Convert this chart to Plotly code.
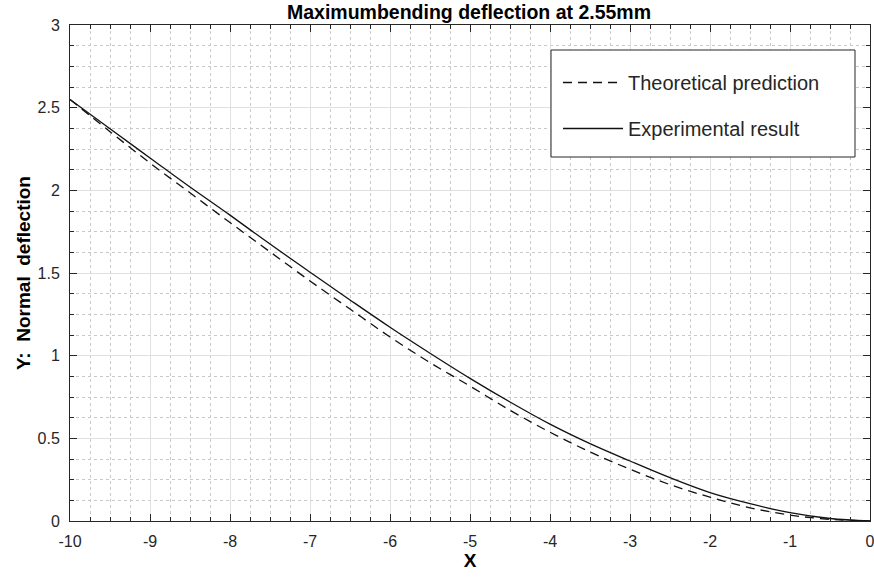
import plotly.graph_objects as go

# ---- data ----
x_vals = [-10, -9.5, -9, -8.5, -8, -7.5, -7, -6.5, -6, -5.5, -5,
          -4.5, -4, -3.5, -3, -2.5, -2, -1.5, -1, -0.5, 0]
theoretical = [2.55, 2.355, 2.165, 1.985, 1.805, 1.628, 1.452, 1.282, 1.113, 0.958, 0.816,
               0.670, 0.537, 0.418, 0.313, 0.220, 0.144, 0.080, 0.036, 0.010, 0.0]
experimental = [2.55, 2.372, 2.196, 2.020, 1.850, 1.675, 1.505, 1.337, 1.172, 1.015, 0.863,
                0.720, 0.586, 0.468, 0.363, 0.262, 0.172, 0.105, 0.050, 0.015, 0.0]
x_ticks = [-10, -9, -8, -7, -6, -5, -4, -3, -2, -1, 0]
y_ticks = [0, 0.5, 1, 1.5, 2, 2.5, 3]

FONT = "Liberation Sans, Arial, sans-serif"
AX = "#262626"

fig = go.Figure()
fig.add_trace(go.Scatter(x=x_vals, y=theoretical, mode="lines", name="Theoretical prediction",
                         line=dict(color="#111111", width=1.3, dash="9px,6px", shape="spline"),
                         legendgroup="a"))
fig.add_trace(go.Scatter(x=x_vals, y=experimental, mode="lines", name="Experimental result",
                         line=dict(color="#111111", width=1.3, shape="spline"),
                         legendgroup="b"))

L, R, T, B = 70, 4, 25, 62
W, H = 874, 583
pw, ph = W - L - R, H - T - B

def px_x(p):
    return (p - L) / pw

def px_y(p):
    return (H - B - p) / ph

axis_common = dict(
    showline=True, linecolor=AX, linewidth=1, mirror="allticks",
    ticks="inside", ticklen=7, tickcolor=AX, tickwidth=1,
    showgrid=True, gridcolor="#e0e0e0", gridwidth=1,
    zeroline=False, automargin=False,
    tickfont=dict(family=FONT, size=16, color=AX),
    ticklabeloverflow="allow",
)

fig.update_xaxes(range=[-10, 0], tickvals=x_ticks, ticktext=[str(v) for v in x_ticks],
                 minor=dict(dtick=0.25, ticks="inside", ticklen=4, tickcolor=AX,
                            showgrid=True, gridcolor="#c8c8c8", griddash="dot", gridwidth=1),
                 title=dict(text="<b>X</b>", font=dict(family=FONT, size=19, color="#000"), standoff=4),
                 ticklabelstandoff=6,
                 **axis_common)
fig.update_yaxes(range=[0, 3], tickvals=y_ticks, ticktext=["0", "0.5", "1", "1.5", "2", "2.5", "3"],
                 minor=dict(dtick=0.125, ticks="inside", ticklen=4, tickcolor=AX,
                            showgrid=True, gridcolor="#c8c8c8", griddash="dot", gridwidth=1),
                 title=dict(text="<b>Y:  Normal  deflection</b>", font=dict(family=FONT, size=19, color="#000"), standoff=1),
                 ticklabelstandoff=6,
                 **axis_common)

# legend box
fig.add_shape(type="rect", xref="paper", yref="paper",
              x0=px_x(551), x1=px_x(855), y0=px_y(157), y1=px_y(50),
              line=dict(color=AX, width=1), fillcolor="white", layer="above")

fig.update_layout(
    width=W, height=H,
    margin=dict(l=L, r=R, t=T, b=B, autoexpand=False),
    paper_bgcolor="white", plot_bgcolor="white",
    title=dict(text="<b>Maximumbending deflection at 2.55mm</b>", x=px_x(469), xref="paper",
               xanchor="center", y=1 - 12 / H, yanchor="middle",
               font=dict(family=FONT, size=19.5, color="#000")),
    legend=dict(x=px_x(558), xanchor="left", y=px_y(63), yanchor="top",
                bgcolor="rgba(0,0,0,0)", borderwidth=0,
                font=dict(family=FONT, size=20, color=AX),
                itemwidth=60, tracegroupgap=17, traceorder="grouped"),
    showlegend=True,
)

fig.write_html("out.html")
